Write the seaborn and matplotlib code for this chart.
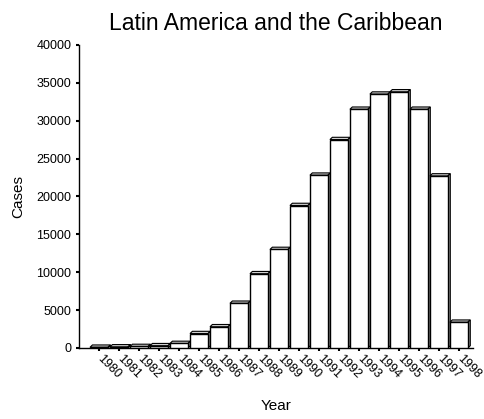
import matplotlib
matplotlib.use("Agg")
import matplotlib.pyplot as plt
import matplotlib.patches as mpatches
import matplotlib.transforms as mtransforms
import seaborn as sns
import pandas as pd

# Data
years = [str(y) for y in range(1980, 1999)]
cases = [100, 150, 200, 300, 600, 1900, 2800, 5900, 9800, 13000, 18800,
         22800, 27500, 31500, 33500, 33800, 31500, 22700, 3400]

df = pd.DataFrame({"Year": years, "Cases": cases})

sns.set_style("white")
plt.rcParams['font.family'] = ['Liberation Sans', 'DejaVu Sans']
plt.rcParams['text.color'] = 'black'
plt.rcParams['axes.labelcolor'] = 'black'
plt.rcParams['xtick.color'] = 'black'
plt.rcParams['ytick.color'] = 'black'

fig = plt.figure(figsize=(4.85, 4.19), dpi=100)
ax = fig.add_axes([0.163, 0.1695, 0.812, 0.7235])

sns.barplot(data=df, x="Year", y="Cases", color="white", edgecolor="black",
            linewidth=1.0, width=0.9, ax=ax, zorder=3)

# fake 3D: top face and side face for each bar
dx, dy = 0.12, 300
for p in ax.patches:
    x0 = p.get_x()
    w, h = p.get_width(), p.get_height()
    top = mpatches.Polygon([(x0, h), (x0 + dx, h + dy), (x0 + w + dx, h + dy), (x0 + w, h)],
                           closed=True, facecolor="#d0d0d0", edgecolor="black", lw=0.8, zorder=2)
    side = mpatches.Polygon([(x0 + w, 0), (x0 + w + dx, dy), (x0 + w + dx, h + dy), (x0 + w, h)],
                            closed=True, facecolor="#9a9a9a", edgecolor="black", lw=0.8, zorder=2)
    ax.add_patch(top)
    ax.add_patch(side)

ax.set_xlim(-1.0, 18.7)
ax.set_ylim(0, 40000)
ax.set_yticks(range(0, 40001, 5000))

sns.despine(ax=ax)
ax.spines['left'].set_linewidth(1.0)
ax.spines['bottom'].set_linewidth(1.0)
ax.spines['left'].set_color('black')
ax.spines['bottom'].set_color('black')
ax.tick_params(axis='both', bottom=True, left=True, direction='out',
               length=2.5, width=1.5, labelsize=9)
ax.tick_params(axis='y', pad=3)
ax.tick_params(axis='x', pad=1)

# rotated year labels, nudged a little to the right of the tick
shift = mtransforms.ScaledTranslation(3 / 72, 0, fig.dpi_scale_trans)
for lab in ax.get_xticklabels():
    lab.set_rotation(-45)
    lab.set_ha('left')
    lab.set_va('top')
    lab.set_rotation_mode('anchor')
    lab.set_transform(lab.get_transform() + shift)

ax.set_title("Latin America and the Caribbean", fontsize=16.5, pad=11)
ax.set_xlabel("Year", fontsize=11, labelpad=13)
ax.set_ylabel("Cases", fontsize=11, labelpad=8)

fig.savefig("out.png", dpi=100)
